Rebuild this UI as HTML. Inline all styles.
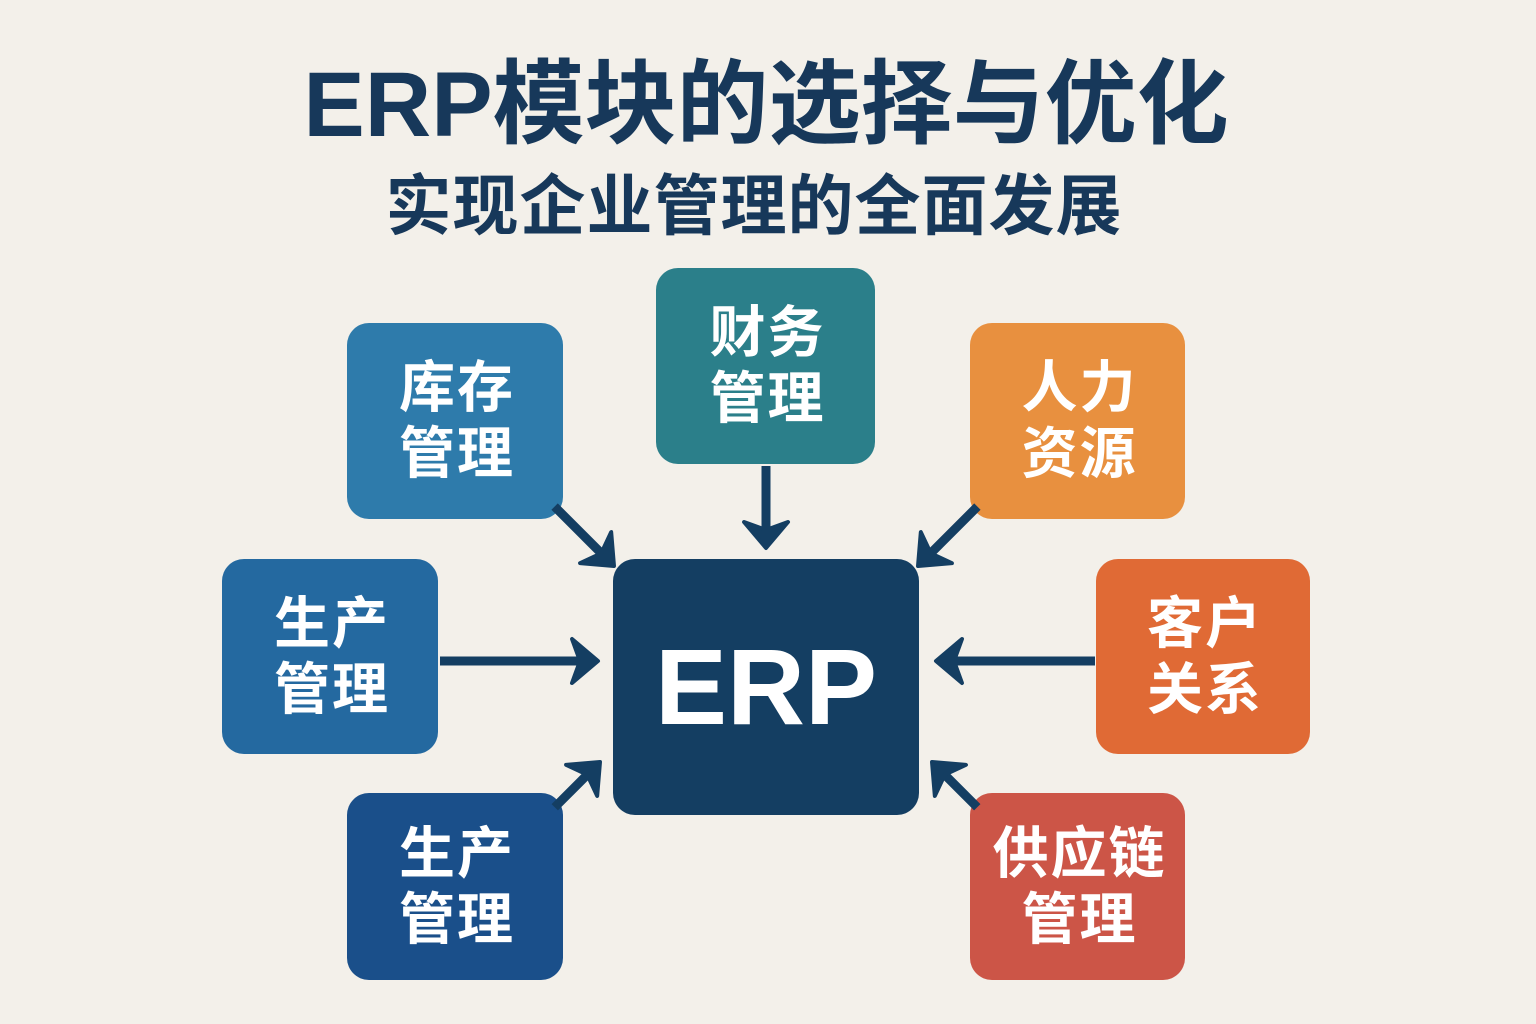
<!DOCTYPE html>
<html><head><meta charset="utf-8"><style>
body{margin:0;width:1536px;height:1024px;background:#f3f0ea;position:relative;overflow:hidden;font-family:"Liberation Sans","Noto Sans CJK SC",sans-serif;}
.t{position:absolute;left:0;width:1536px;text-align:center;color:#17385a;font-weight:bold;}
.b{position:absolute;border-radius:22px;color:#fff;font-weight:bold;font-size:56px;line-height:66px;display:flex;align-items:center;justify-content:center;text-align:center;letter-spacing:2px;padding-left:4px;box-sizing:border-box;}
svg{position:absolute;left:0;top:0;}
</style></head><body>
<div class="t" style="top:50px;font-size:92px;line-height:110px;left:-2px;">ERP模块的选择与优化</div>
<div class="t" style="top:168px;font-size:66px;line-height:76px;left:-14px;letter-spacing:1px;">实现企业管理的全面发展</div>

<div class="b" style="left:347px;top:323px;width:216px;height:196px;background:#2e7bab;">库存<br>管理</div>
<div class="b" style="left:656px;top:268px;width:219px;height:196px;background:#2b7f8a;">财务<br>管理</div>
<div class="b" style="left:970px;top:323px;width:215px;height:196px;background:#e8903f;">人力<br>资源</div>
<div class="b" style="left:222px;top:559px;width:216px;height:195px;background:#2469a0;">生产<br>管理</div>
<div class="b" style="left:613px;top:559px;width:306px;height:256px;background:#143e62;font-size:108px;line-height:110px;letter-spacing:0;padding-left:0;">ERP</div>
<div class="b" style="left:1096px;top:559px;width:214px;height:195px;background:#e06a35;">客户<br>关系</div>
<div class="b" style="left:347px;top:793px;width:216px;height:187px;background:#1a4f8a;">生产<br>管理</div>
<div class="b" style="left:970px;top:793px;width:215px;height:187px;background:#cc5547;">供应链<br>管理</div>

<svg width="1536" height="1024" viewBox="0 0 1536 1024">
<defs>
<g id="h"><polygon points="0,0 -26,-22 -18,0 -26,22" fill="#143e62" stroke="#143e62" stroke-width="4" stroke-linejoin="round"/></g>
</defs>
<g stroke="#143e62" stroke-width="9">
<g transform="translate(598,661)"><line x1="-158" y1="0" x2="-16" y2="0"/><use href="#h"/></g>
<g transform="translate(936,661) rotate(180)"><line x1="-159" y1="0" x2="-16" y2="0"/><use href="#h"/></g>
<g transform="translate(766,548) rotate(90)"><line x1="-82" y1="0" x2="-16" y2="0"/><use href="#h"/></g>
<g transform="translate(614,566) rotate(45)"><line x1="-84" y1="0" x2="-16" y2="0"/><use href="#h"/></g>
<g transform="translate(918,566) rotate(135)"><line x1="-84" y1="0" x2="-16" y2="0"/><use href="#h"/></g>
<g transform="translate(600,762) rotate(-45)"><line x1="-64" y1="0" x2="-16" y2="0"/><use href="#h"/></g>
<g transform="translate(932,762) rotate(-135)"><line x1="-64" y1="0" x2="-16" y2="0"/><use href="#h"/></g>
</g>
</svg>
</body></html>
